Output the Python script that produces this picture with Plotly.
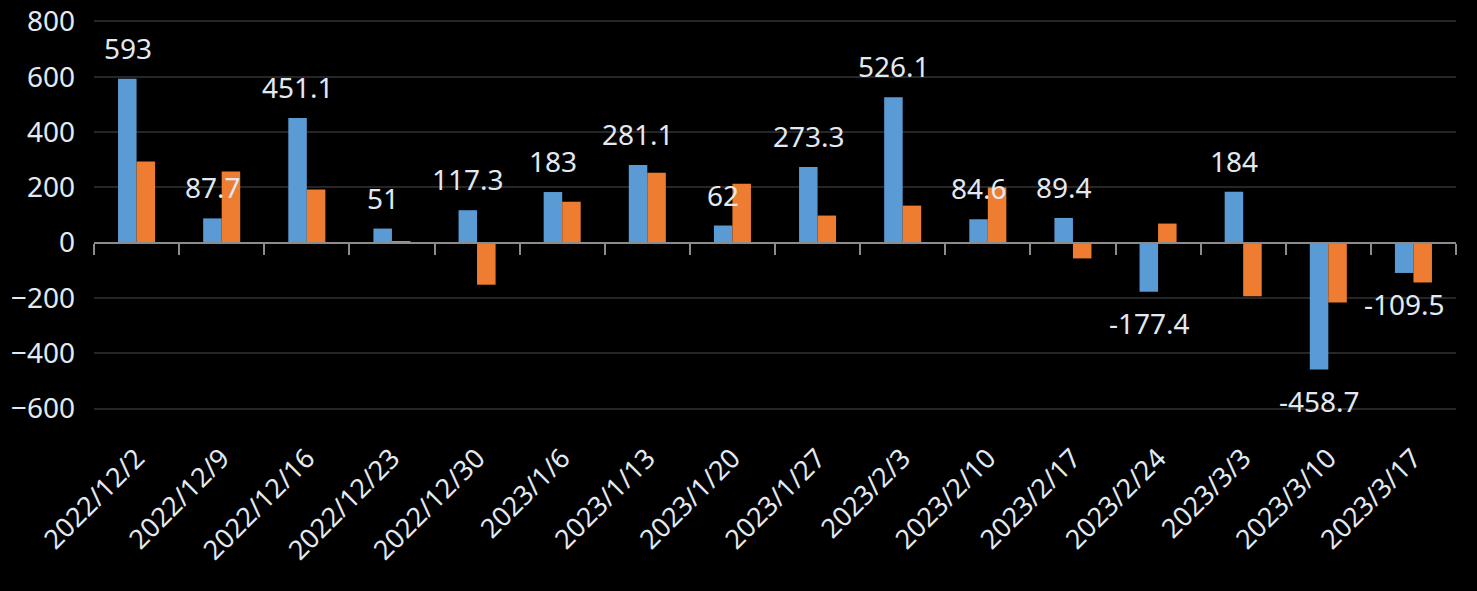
import plotly.graph_objects as go

dates = ["2022/12/2", "2022/12/9", "2022/12/16", "2022/12/23", "2022/12/30",
         "2023/1/6", "2023/1/13", "2023/1/20", "2023/1/27", "2023/2/3",
         "2023/2/10", "2023/2/17", "2023/2/24", "2023/3/3", "2023/3/10", "2023/3/17"]
blue_vals = [593, 87.7, 451.1, 51, 117.3, 183, 281.1, 62, 273.3, 526.1,
             84.6, 89.4, -177.4, 184, -458.7, -109.5]
orange_vals = [293, 257, 192, 5, -152, 148, 253, 213, 98, 134,
               199, -57, 69, -194, -216, -144]
y_ticks = [-600, -400, -200, 0, 200, 400, 600, 800]

FONT = "Noto Sans"
TXT = "#e2e9f2"

fig = go.Figure()
fig.add_trace(go.Bar(x=dates, y=blue_vals, marker=dict(color="#5b9bd5", line=dict(width=0)),
                     name="A", hoverinfo="skip"))
fig.add_trace(go.Bar(x=dates, y=orange_vals, marker=dict(color="#ef7d31", line=dict(width=0)),
                     name="B", hoverinfo="skip"))
# invisible helper on second x axis (tick marks on zero line)
fig.add_trace(go.Scatter(x=dates, y=[0] * len(dates), xaxis="x2", mode="markers",
                         marker=dict(opacity=0), hoverinfo="skip", showlegend=False))

for d, v in zip(dates, blue_vals):
    fig.add_annotation(x=d, y=v, text=f"{v:g}", showarrow=False,
                       xshift=-9, yshift=31 if v >= 0 else -31,
                       yanchor="middle", xanchor="center",
                       font=dict(family=FONT, size=28, color=TXT))

fig.update_layout(
    width=1477, height=591,
    paper_bgcolor="#000000", plot_bgcolor="#000000",
    margin=dict(l=94, r=21, t=20, b=181, autoexpand=False),
    barmode="group", bargap=0.565, bargroupgap=0,
    showlegend=False,
    font=dict(family=FONT, size=28, color=TXT),
    xaxis=dict(type="category", categoryorder="array", categoryarray=dates,
               range=[-0.5, len(dates) - 0.5], automargin=False,
               tickangle=-45, showgrid=False, zeroline=False, showline=False,
               ticks="", ticklabelstandoff=26,
               tickfont=dict(family=FONT, size=27, color=TXT)),
    xaxis2=dict(type="category", categoryorder="array", categoryarray=dates,
                range=[-0.5, len(dates) - 0.5], overlaying="x", anchor="free",
                position=605 / 1410, side="bottom", automargin=False,
                showticklabels=False, showgrid=False, zeroline=False,
                showline=True, linecolor="#8c8c8c", linewidth=2,
                ticks="outside", tickson="boundaries", ticklen=11,
                tickcolor="#8c8c8c", tickwidth=2),
    yaxis=dict(range=[-605, 805], tickvals=y_ticks, showgrid=True,
               gridcolor="#262626", gridwidth=2, automargin=False,
               zeroline=True, zerolinecolor="#8c8c8c", zerolinewidth=2,
               showline=False, ticks="", ticklabelstandoff=18,
               tickfont=dict(family=FONT, size=28, color=TXT)),
)

fig.write_html("out.html",
               config={"displayModeBar": False},
               post_script="document.body.style.margin='0';"
                           "document.body.style.background='#000';"
                           "document.documentElement.style.background='#000';"
                           "document.body.style.overflow='hidden';")
